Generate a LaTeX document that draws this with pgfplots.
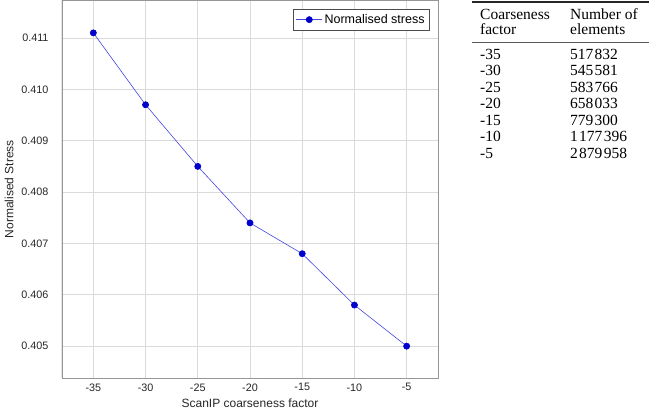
\documentclass[border=0pt]{standalone}
\usepackage{pgfplots}
\pgfplotsset{compat=1.18}
\usepackage{fontspec}
\setmainfont{Liberation Sans}
\newfontfamily\tabfont{Liberation Serif}
\definecolor{lineblue}{RGB}{70,70,225}
\definecolor{markblue}{RGB}{0,0,205}
\definecolor{gridgray}{RGB}{218,218,218}
\definecolor{boxgray}{RGB}{150,150,150}
\newcommand{\ts}{\kern1.3bp}
\begin{document}
\begin{tikzpicture}
\useasboundingbox (0,0) rectangle (649bp,412bp);
\begin{axis}[
  at={(62bp,34bp)}, anchor=south west,
  scale only axis, width=376bp, height=378bp,
  xmin=-38, xmax=-2, ymin=0.40438, ymax=0.41174,
  xtick={-35,-30,...,-5},
  ytick={0.405,0.406,0.407,0.408,0.409,0.410,0.411},
  scaled y ticks=false,
  yticklabel style={/pgf/number format/fixed,/pgf/number format/precision=3,/pgf/number format/fixed zerofill},
  /pgf/number format/assume math mode=true,
  tick style={draw=none},
  grid=major, major grid style={gridgray, line width=0.8bp},
  axis line style={boxgray, line width=0.8bp},
  ticklabel style={font=\fontsize{10.8bp}{12bp}\selectfont, text=black!85},
  xticklabel style={yshift=-2bp},
  yticklabel style={xshift=-10bp},
  xlabel={ScanIP coarseness factor},
  ylabel={Normalised Stress},
  label style={font=\fontsize{12bp}{14bp}\selectfont, text=black!85},
  xlabel style={yshift=-1bp},
  ylabel style={yshift=1bp},
  legend style={at={(1,1)}, anchor=north east, xshift=-8bp, yshift=-9bp,
    draw=black!70, line width=0.8bp, font=\fontsize{12.5bp}{14bp}\selectfont,
    inner xsep=3bp, inner ysep=3bp},
  legend cell align=left,
  legend image code/.code={\draw[mark repeat=2,mark phase=2,#1] plot coordinates {(0bp,0bp) (13bp,0bp) (26bp,0bp)};},
]
\addplot[color=lineblue, line width=0.6bp, mark=*, mark size=3.1bp,
  mark options={fill=markblue, draw=markblue}]
  coordinates {(-35,0.4111) (-30,0.4097) (-25,0.4085) (-20,0.4074) (-15,0.4068) (-10,0.4058) (-5,0.4050)};
\addlegendentry{Normalised stress}
\draw[black!80, line width=1bp] (rel axis cs:0,1) -- (rel axis cs:0,0) -- (rel axis cs:1,0);
\end{axis}
% table
\begin{scope}[every node/.style={anchor=base west, inner sep=0pt, font=\tabfont\fontsize{15.5bp}{16bp}\selectfont}]
\draw[line width=1.6bp, black!85] (472bp,410bp) -- (649bp,410bp);
\draw[line width=1.5bp, black!65] (472bp,369.3bp) -- (649bp,369.3bp);
\node at (480bp,392bp) {Coarseness};
\node at (480bp,377bp) {factor};
\node at (570bp,392bp) {Number of};
\node at (570bp,377bp) {elements};
\node at (480bp,352.5bp) {-35}; \node at (570bp,352.5bp) {517\ts832};
\node at (480bp,336bp) {-30};   \node at (570bp,336bp) {545\ts581};
\node at (480bp,319.5bp) {-25}; \node at (570bp,319.5bp) {583\ts766};
\node at (480bp,303bp) {-20};   \node at (570bp,303bp) {658\ts033};
\node at (480bp,286.5bp) {-15}; \node at (570bp,286.5bp) {779\ts300};
\node at (480bp,270bp) {-10};   \node at (570bp,270bp) {1\ts177\ts396};
\node at (480bp,253.5bp) {-5};  \node at (570bp,253.5bp) {2\ts879\ts958};
\end{scope}
\end{tikzpicture}
\end{document}
